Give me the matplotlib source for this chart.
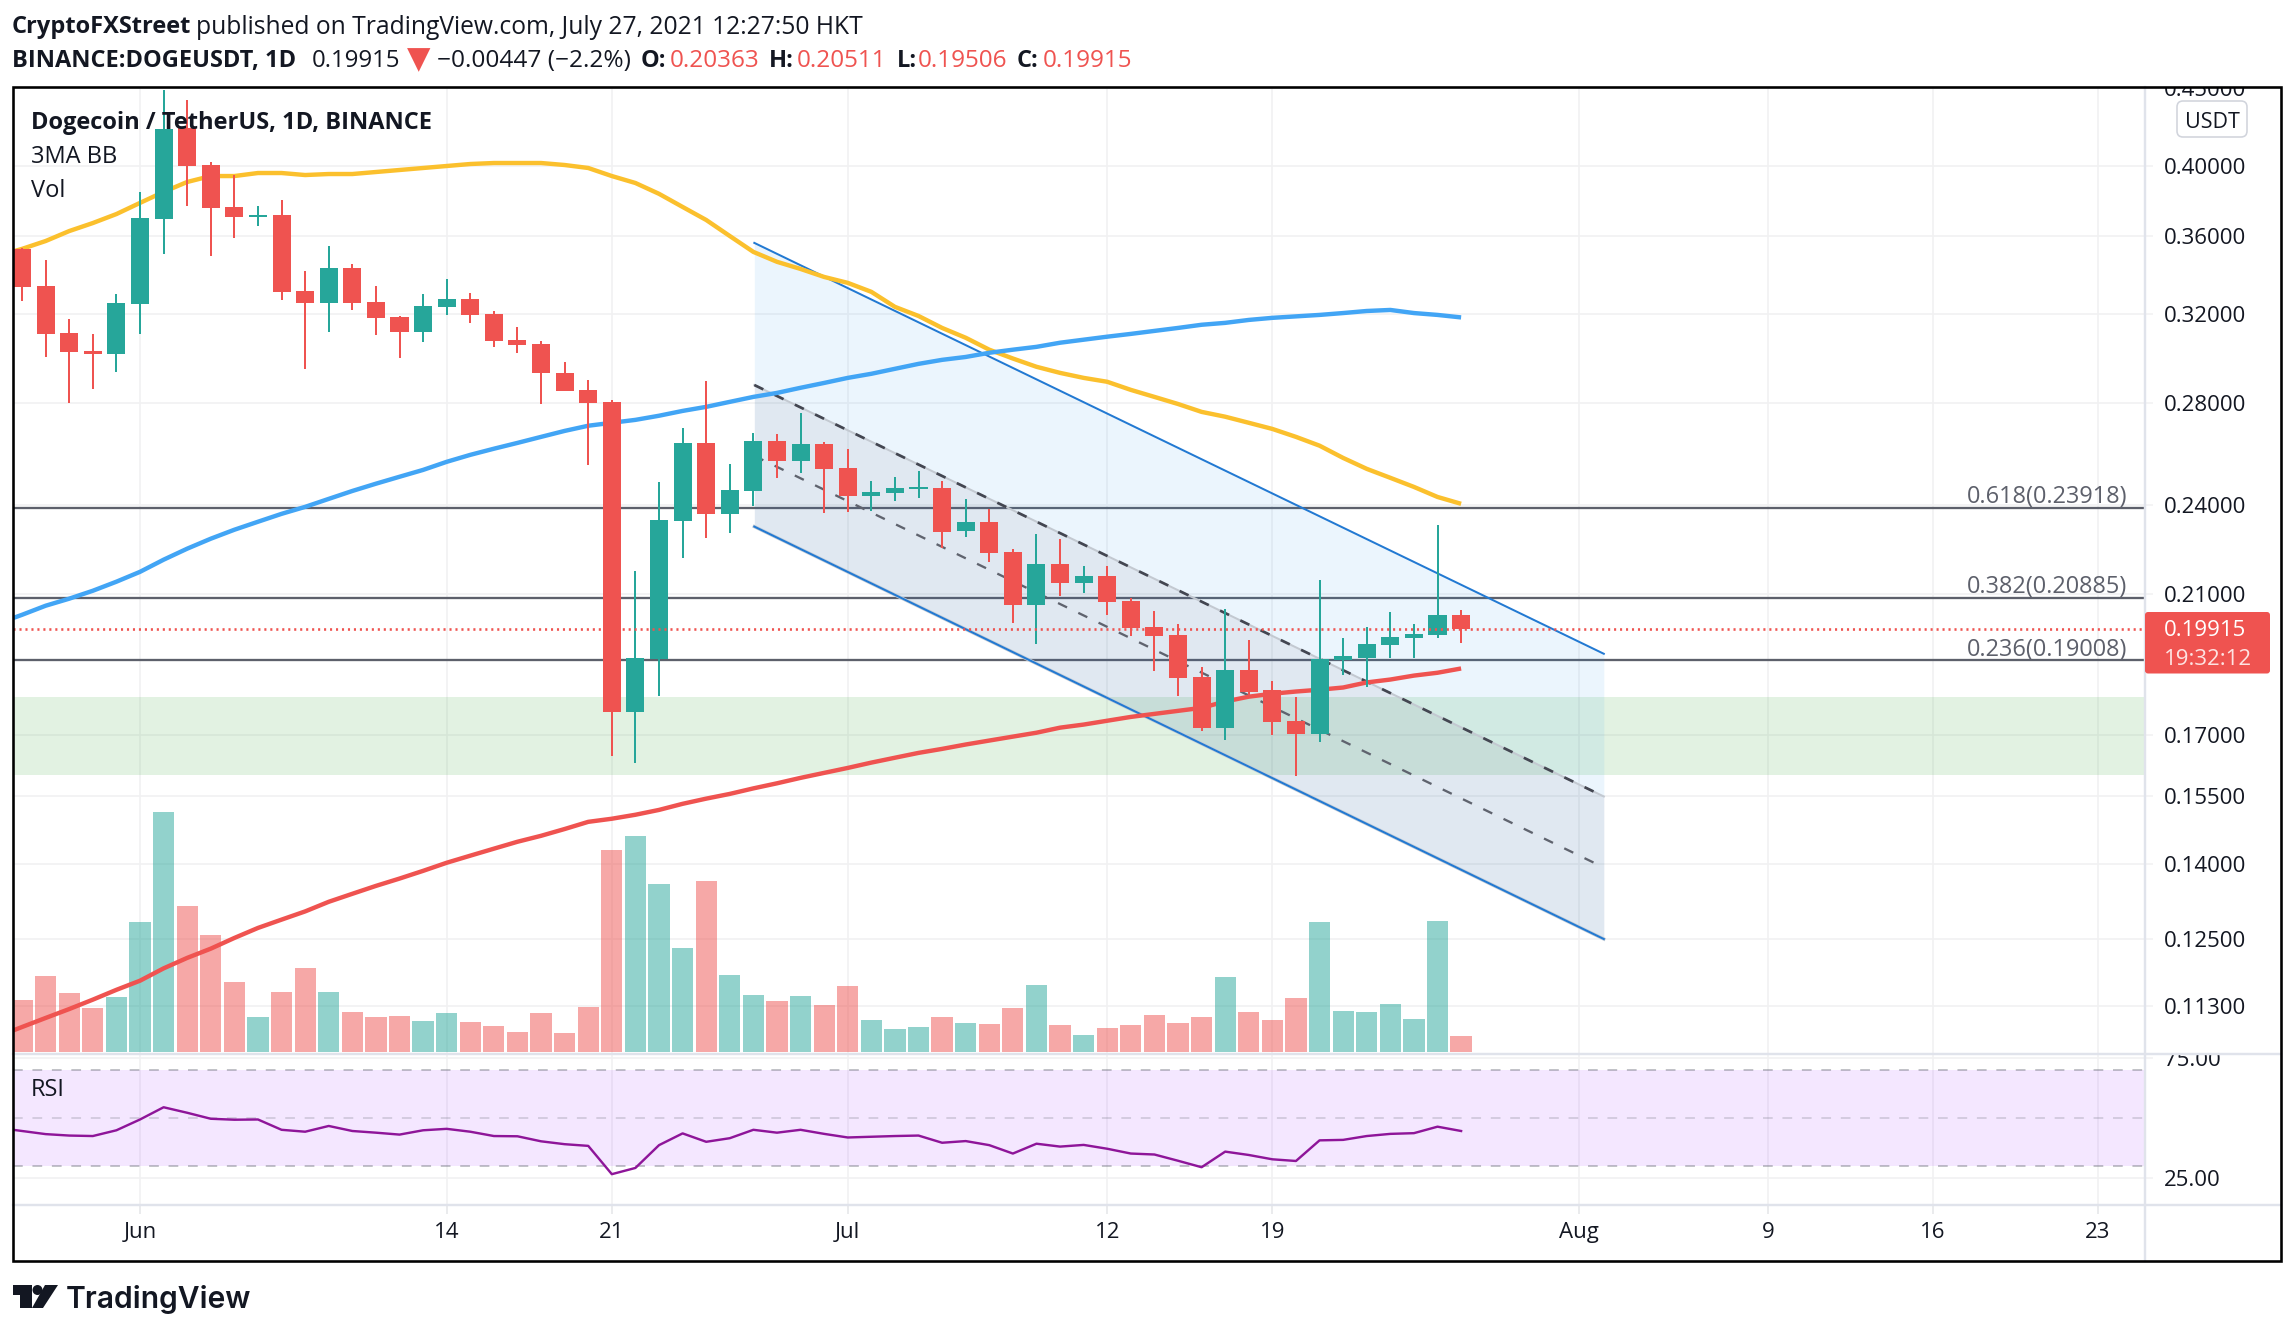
import matplotlib
matplotlib.use("Agg")
import matplotlib.pyplot as plt
from matplotlib.patches import Rectangle, FancyBboxPatch, Polygon, Circle
from matplotlib.lines import Line2D
from matplotlib.transforms import Bbox

plt.rcParams['font.family'] = ['Open Sans', 'DejaVu Sans']
plt.rcParams['lines.scale_dashes'] = False

# ---------- data (day number: 0 = 1 June 2021) ----------
first_day = -5
opens = [.3531,.3340,.3112,.3029,.3015,.3251,.3693,.4234,.4006,.3761,.3707,.3716,.3315,.3256,.3431,.3261,.3188,.3117,.3236,.3276,.3202,.3080,.3061,.2930,.2856,
         .2805,.1760,.1905,.2345,.2637,.2370,.2453,.2645,.2567,.2633,.2540,.2435,.2446,.2461,.2465,.2310,.2342,.2239,.2067,.2199,.2137,.2159,.2079,.2000,.1976,.1855,
         .1718,.1875,.1817,.1736,.1702,.1903,.1908,.1946,.1967,.1976,.20363]
highs = [.3535,.3473,.3178,.3107,.3300,.3847,.4485,.4418,.4024,.3946,.3767,.3801,.3416,.3547,.3452,.3340,.3192,.3300,.3375,.3305,.3216,.3140,.3075,.2979,.2900,
         .2813,.2175,.2487,.2698,.2895,.2556,.2677,.2673,.2759,.2641,.2614,.2491,.2506,.2529,.2491,.2424,.2388,.2249,.2300,.2283,.2192,.2192,.2089,.2048,.2009,.1883,
         .2054,.1961,.1844,.1800,.2146,.1967,.2000,.2045,.2009,.2332,.20511]
lows = [.3265,.3001,.2800,.2860,.2935,.3107,.3505,.3767,.3494,.3589,.3655,.3270,.2948,.3117,.3222,.3103,.2997,.3070,.3197,.3159,.3047,.3020,.2796,.2851,.2552,
        .1647,.1630,.1803,.2218,.2286,.2303,.2399,.2502,.2521,.2374,.2378,.2381,.2417,.2428,.2252,.2290,.2205,.2012,.1949,.2095,.2105,.2036,.1973,.1872,.1803,.1710,
        .1687,.1800,.1700,.1598,.1682,.1861,.1827,.1908,.1908,.1967,.19506]
closes = [.3335,.3107,.3024,.3015,.3256,.3699,.4226,.4000,.3756,.3705,.3713,.3310,.3256,.3431,.3256,.3183,.3117,.3241,.3276,.3197,.3075,.3057,.2930,.2851,.2800,
          .1760,.1908,.2349,.2637,.2370,.2457,.2645,.2567,.2633,.2536,.2435,.2450,.2465,.2468,.2307,.2342,.2235,.2067,.2199,.2137,.2159,.2076,.1997,.1973,.1852,.1718,
          .1875,.1814,.1733,.1702,.1905,.1914,.1949,.1970,.1979,.2036,.19915]
volumes = [147,215,167,125,156,368,679,413,331,198,99,170,238,170,113,99,102,88,111,85,74,57,111,54,128,
           572,612,476,295,484,218,161,144,159,133,187,91,65,71,99,82,79,125,190,77,48,68,77,105,82,99,
           212,113,91,153,368,116,113,136,94,371,45]
# the indicator series begin one day earlier, just off the left edge
ma_yellow = [.3495,.3531,.3573,.3627,.3671,.3721,.3784,.3847,.3905,.3940,.3940,.3958,.3958,.3946,.3952,.3952,.3964,.3976,.3988,.4000,.4012,.4018,.4018,.4018,.4006,.3988,
             .3940,.3899,.3836,.3761,.3688,.3600,.3515,.3463,.3426,.3385,.3355,.3310,.3236,.3192,.3135,.3089,.3034,.2994,.2957,.2930,.2908,.2891,.2856,.2826,.2796,.2763,
             .2743,.2718,.2693,.2661,.2626,.2578,.2536,.2502,.2468,.2431,.2406]
ma_blue = [.2010,.2036,.2064,.2086,.2111,.2140,.2172,.2212,.2249,.2283,.2314,.2342,.2370,.2395,.2424,.2453,.2480,.2506,.2532,.2563,.2590,.2614,.2637,.2661,.2685,.2706,
           .2718,.2730,.2747,.2767,.2784,.2805,.2826,.2843,.2865,.2886,.2908,.2926,.2948,.2970,.2988,.3001,.3020,.3034,.3047,.3066,.3080,.3094,.3107,.3121,.3135,.3150,
           .3159,.3173,.3183,.3190,.3197,.3206,.3216,.3221,.3206,.3197,.3185]
ma_red = [.1080,.1095,.1110,.1125,.1141,.1158,.1174,.1196,.1215,.1232,.1252,.1271,.1287,.1303,.1322,.1338,.1354,.1369,.1385,.1402,.1417,.1432,.1447,.1460,.1475,.1491,
          .1498,.1507,.1518,.1532,.1544,.1555,.1568,.1580,.1593,.1605,.1617,.1630,.1642,.1654,.1664,.1675,.1685,.1695,.1705,.1718,.1726,.1736,.1746,.1754,.1762,.1770,
          .1787,.1800,.1808,.1814,.1819,.1825,.1839,.1847,.1858,.1866,.1878]
rsi = [45.9,44.6,43.3,42.7,42.5,44.9,49.4,54.5,52.2,49.7,49.3,49.4,45.1,44.3,46.7,44.6,43.9,43.1,44.9,45.5,44.3,42.5,42.4,40.3,39.1,38.4,
       26.6,29.2,38.7,43.6,40.1,41.6,45.1,43.9,45.1,43.4,41.9,42.2,42.5,42.7,39.7,40.4,38.7,35.2,39.3,38.1,38.8,37.2,35.2,34.8,32.2,29.5,
       36.0,34.6,32.8,32.1,40.7,40.9,42.5,43.4,43.7,46.4,44.6]
fib_levels = [0.23918, 0.20885, 0.19008]
fib_labels = ['0.618(0.23918)', '0.382(0.20885)', '0.236(0.19008)']
last_price = 0.19915
zone_low, zone_high = 0.16, 0.18
channel_days = [26.04, 62.05]
channel_top = [.3563, .1920]
channel_upper = [.2877, .1549]
channel_mid = [.2586, .1392]
channel_bottom = [.2325, .1250]
price_ticks = [0.45, 0.40, 0.36, 0.32, 0.28, 0.24, 0.21, 0.17, 0.155, 0.14, 0.125, 0.113]
price_tick_labels = ['0.45000', '0.40000', '0.36000', '0.32000', '0.28000', '0.24000', '0.21000', '0.17000', '0.15500', '0.14000', '0.12500', '0.11300']
rsi_ticks = [75, 25]
rsi_tick_labels = ['75.00', '25.00']
date_ticks = [0, 13, 20, 30, 41, 48, 61, 69, 76, 83]
date_labels = ['Jun', '14', '21', 'Jul', '12', '19', 'Aug', '9', '16', '23']

# ---------- layout ----------
W, H = 2294, 1334
DPI = 100
px = 0.72  # points per pixel
TEXT = '#131722'
TEAL = '#26a69a'
RED = '#ef5350'
GRID = '#f1f1f2'
SEP = '#e0e3eb'
L, R, T, PANE, TIME, B = 13, 2145, 87, 1054, 1205, 1261

fig = plt.figure(figsize=(W / DPI, H / DPI), dpi=DPI, facecolor='white')

def rect(x0, y0, x1, y1):
    return [x0 / W, 1 - y1 / H, (x1 - x0) / W, (y1 - y0) / H]

def fx(x):
    return x / W

def fy(y):
    return 1 - y / H

days = list(range(first_day, first_day + len(opens)))
ind_days = [first_day - 1] + days
xlim = (-5.384, 84.99)
price_lim = (0.10514, 0.45049)

# grid + price scale layer
ax_base = fig.add_axes(rect(L, T, R, PANE), zorder=0)
ax_base.set_yscale('log')
ax_base.set_xlim(xlim)
ax_base.set_ylim(price_lim)
ax_base.yaxis.set_major_locator(matplotlib.ticker.FixedLocator(price_ticks))
ax_base.yaxis.set_major_formatter(matplotlib.ticker.FixedFormatter(price_tick_labels))
ax_base.yaxis.set_minor_locator(matplotlib.ticker.NullLocator())
ax_base.yaxis.tick_right()
ax_base.tick_params(axis='y', length=8 * px, width=1.5 * px, color=GRID, labelsize=16, labelcolor=TEXT, pad=8)
ax_base.set_xticks(date_ticks)
ax_base.tick_params(axis='x', length=0, labelbottom=False)
ax_base.grid(True, color=GRID, lw=1.6 * px)
for s in ax_base.spines.values():
    s.set_visible(False)
for lab in ax_base.get_yticklabels():
    lab.set_clip_on(True)
    lab.set_clip_box(Bbox.from_extents(0, H - PANE, W, H - T))

# volume layer
ax_vol = fig.add_axes(rect(L, T, R, PANE), zorder=1)
ax_vol.patch.set_alpha(0)
ax_vol.set_xlim(xlim)
ax_vol.set_ylim(-5.66, 2731)
ax_vol.axis('off')
vol_colors = [TEAL if c >= o else RED for o, c in zip(opens, closes)]
ax_vol.bar(days, volumes, width=0.9, color=vol_colors, alpha=0.5, linewidth=0)

# price layer
ax = fig.add_axes(rect(L, T, R, PANE), zorder=2)
ax.patch.set_alpha(0)
ax.set_yscale('log')
ax.set_xlim(xlim)
ax.set_ylim(price_lim)
ax.axis('off')

ax.axhspan(zone_low, zone_high, color='#4caf50', alpha=0.16, lw=0, zorder=1)
for lv, lb in zip(fib_levels, fib_labels):
    ax.axhline(lv, color='#5d606b', lw=2.3 * px, zorder=2)
    ax.annotate(lb, xy=(84.23, lv), xytext=(0, 3.4), textcoords='offset points',
                ha='right', va='baseline', fontsize=16.9, color='#5d606b', zorder=8)
ax.fill_between(channel_days, channel_upper, channel_top, color='#2196f3', alpha=0.085, lw=0, zorder=3)
ax.fill_between(channel_days, channel_bottom, channel_upper, color='#3066a2', alpha=0.15, lw=0, zorder=3)
ax.plot(channel_days, channel_top, color='#2279d2', lw=2 * px, zorder=4)
ax.plot(channel_days, channel_bottom, color='#c3ccd6', lw=3.4 * px, zorder=4)
ax.plot(channel_days, channel_bottom, color='#2279d2', lw=2 * px, zorder=4)
ax.plot(channel_days, channel_upper, color='#c3c9d1', lw=2 * px, zorder=4)
ax.plot(channel_days, channel_upper, color='#434651', lw=2.7 * px, dashes=(7.2, 9), zorder=4)
ax.plot(channel_days, channel_mid, color='#5f636e', lw=2.3 * px, dashes=(7.2, 9), zorder=4)

ax.plot(ind_days, ma_yellow, color='#fbc02d', lw=4.4 * px, zorder=5, solid_capstyle='butt')
ax.plot(ind_days, ma_blue, color='#42a5f5', lw=4.4 * px, zorder=5, solid_capstyle='butt')
ax.plot(ind_days, ma_red, color=RED, lw=4.4 * px, zorder=5, solid_capstyle='butt')

for d, o, h, l, c, col in zip(days, opens, highs, lows, closes, vol_colors):
    ax.plot([d, d], [l, h], color=col, lw=2 * px, zorder=6, solid_capstyle='butt')
    lo, hi = min(o, c), max(o, c)
    ax.bar(d, hi - lo, bottom=lo, width=0.765, color=col, linewidth=0, zorder=6)

ax.axhline(last_price, color=RED, lw=2.6 * px, dashes=(1.5, 2.8), zorder=7)

# RSI pane
ax_r = fig.add_axes(rect(L, PANE, R, TIME), zorder=1)
ax_r.patch.set_alpha(0)
ax_r.set_xlim(xlim)
ax_r.set_ylim(13.75, 76.7)
ax_r.axhspan(30, 70, color='#9915ff', alpha=0.1, lw=0, zorder=1)
ax_r.axhline(70, color='#787b86', alpha=0.5, lw=1.8 * px, dashes=(7, 7), zorder=2)
ax_r.axhline(50, color='#787b86', alpha=0.28, lw=1.8 * px, dashes=(7, 7), zorder=2)
ax_r.axhline(30, color='#787b86', alpha=0.5, lw=1.8 * px, dashes=(7, 7), zorder=2)
ax_r.plot(ind_days, rsi, color='#8e1599', lw=2.4 * px, zorder=3)
ax_r.set_xticks(date_ticks)
ax_r.set_xticklabels(date_labels)
ax_r.set_yticks(rsi_ticks)
ax_r.set_yticklabels(rsi_tick_labels)
ax_r.yaxis.tick_right()
ax_r.tick_params(axis='y', length=8 * px, width=1.5 * px, color=GRID, labelsize=16, labelcolor=TEXT, pad=8)
ax_r.tick_params(axis='x', length=9 * px, width=1.5 * px, color='#e4e5e8', labelsize=16, labelcolor=TEXT, pad=6)
ax_r.grid(True, color=GRID, lw=1.6 * px, zorder=0)
ax_r.set_axisbelow(True)
for s in ax_r.spines.values():
    s.set_visible(False)
for lab in ax_r.get_yticklabels():
    lab.set_clip_on(True)
    lab.set_clip_box(Bbox.from_extents(0, H - TIME, W, H - PANE))

# separators and outer frame
for (x0, y0, x1, y1) in [(R, T, R, B), (L, PANE, 2281, PANE), (L, TIME, 2281, TIME)]:
    fig.add_artist(Line2D([fx(x0), fx(x1)], [fy(y0), fy(y1)], color=SEP, lw=2.4 * px, zorder=9))
fig.add_artist(Rectangle((fx(L), fy(B)), (2281 - L) / W, (B - T) / H, fill=False, ec='black', lw=2.6 * px, zorder=10))

# last-price tag
fig.add_artist(FancyBboxPatch((R, H - 673.5), 125, 61.5, boxstyle='round,pad=0,rounding_size=3', fc=RED, ec='none',
                              transform=None, zorder=11))
fig.text(fx(2164), fy(630), '0.19915', color='white', fontsize=16, va='center', ha='left', zorder=12)
fig.text(fx(2164), fy(660), '19:32:12', color='#fde3e2', fontsize=16, va='center', ha='left', zorder=12)

# currency button
fig.add_artist(FancyBboxPatch((2177, H - 137), 70, 36, boxstyle='round,pad=0,rounding_size=6', fc='white', ec='#d1d4dc',
                              lw=1.6 * px, transform=None, zorder=11))
fig.text(fx(2212), fy(122), 'USDT', color=TEXT, fontsize=15.5, va='center', ha='center', zorder=12)

# header
def head(x, y, s, bold=False, color=TEXT, size=17):
    fig.text(fx(x), fy(y + 3), s, color=color, fontsize=size, fontweight='bold' if bold else 'normal', va='center', ha='left', zorder=12)

head(12, 24, 'CryptoFXStreet', True)
head(196, 24, 'published on TradingView.com, July 27, 2021 12:27:50 HKT', size=17.7)
head(12, 58, 'BINANCE:DOGEUSDT, 1D', True)
head(312, 58, '0.19915', size=17.3)
fig.text(fx(419), fy(60), '\u25bc', color=RED, fontsize=22, family='DejaVu Sans', va='center', ha='center', zorder=12)
head(437, 58, '\u22120.00447 (\u22122.2%)', size=17.6)
head(641, 58, 'O:', True)
head(670, 58, '0.20363', color=RED, size=17.5)
head(769, 58, 'H:', True)
head(797, 58, '0.20511', color=RED, size=17.5)
head(897, 58, 'L:', True)
head(918, 58, '0.19506', color=RED, size=17.5)
head(1017, 58, 'C:', True)
head(1043, 58, '0.19915', color=RED, size=17.5)

# legend texts
head(31, 120, 'Dogecoin / TetherUS, 1D, BINANCE', True, size=17)
head(31, 154, '3MA BB', size=17)
head(31, 188, 'Vol', size=17)
head(31, 1087, 'RSI', size=17)

# TradingView logo
LOGO = '#131722'
def polyg(pts):
    fig.add_artist(Polygon([(x, H - y) for x, y in pts], closed=True, fc=LOGO, ec='none', transform=None, zorder=12))
polyg([(13, 1285), (32, 1285), (32, 1308), (20, 1308), (20, 1295), (13, 1295)])
polyg([(45, 1285), (58, 1285), (43, 1308), (32, 1308)])
fig.add_artist(Circle((37.5, H - 1290), 5, fc=LOGO, ec='none', transform=None, zorder=12))
fig.text(fx(66), fy(1300), 'TradingView', color=LOGO, fontsize=21.6, fontweight='semibold', family='Inter', va='center', ha='left', zorder=12)

fig.savefig('out.png', dpi=DPI, facecolor='white')
